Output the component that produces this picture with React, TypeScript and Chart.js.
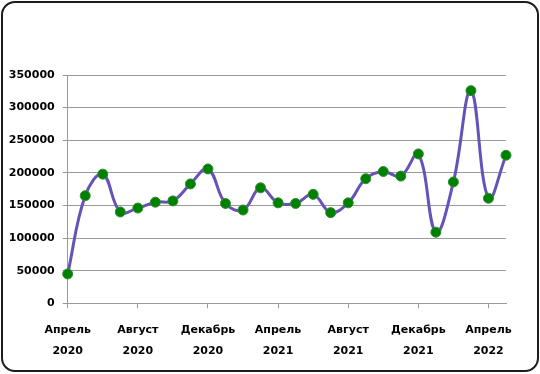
import { useEffect, useRef } from "react";
import { Chart, registerables } from "chart.js";

Chart.register(...registerables);

const categories: string[][] = [
  ["Апрель", "2020"], ["Май", "2020"], ["Июнь", "2020"], ["Июль", "2020"],
  ["Август", "2020"], ["Сентябрь", "2020"], ["Октябрь", "2020"], ["Ноябрь", "2020"],
  ["Декабрь", "2020"], ["Январь", "2021"], ["Февраль", "2021"], ["Март", "2021"],
  ["Апрель", "2021"], ["Май", "2021"], ["Июнь", "2021"], ["Июль", "2021"],
  ["Август", "2021"], ["Сентябрь", "2021"], ["Октябрь", "2021"], ["Ноябрь", "2021"],
  ["Декабрь", "2021"], ["Январь", "2022"], ["Февраль", "2022"], ["Март", "2022"],
  ["Апрель", "2022"], ["Май", "2022"],
];

const values: number[] = [
  45000, 165000, 198000, 140000, 146000, 155000, 157000, 183000, 206000,
  153000, 143000, 177000, 154000, 153000, 167000, 139000, 154000, 191000,
  202000, 195000, 229000, 109000, 186000, 326000, 161000, 227000,
];

const yTicks: number[] = [0, 50000, 100000, 150000, 200000, 250000, 300000, 350000];

export default function App() {
  const ref = useRef<HTMLCanvasElement | null>(null);

  useEffect(() => {
    if (!ref.current) return;
    const font = { family: "'DejaVu Sans', sans-serif", size: 11, weight: "bold" as const };
    const chart = new Chart(ref.current, {
      type: "line",
      data: {
        labels: categories,
        datasets: [
          {
            data: values,
            borderColor: "#6652b8",
            borderWidth: 3,
            tension: 0.4,
            pointRadius: 5,
            pointBackgroundColor: "#008000",
            pointBorderColor: "#2f8f2f",
            pointBorderWidth: 1,
            fill: false,
          },
        ],
      },
      options: {
        animation: false,
        responsive: false,
        maintainAspectRatio: false,
        layout: { padding: { left: 0, top: 75, right: 34, bottom: 0 } },
        plugins: { legend: { display: false }, tooltip: { enabled: false } },
        scales: {
          x: {
            type: "category",
            offset: false,
            grid: {
              drawOnChartArea: false,
              drawTicks: true,
              tickLength: 5,
              tickColor: (ctx: any) => (ctx.index % 4 === 0 ? "#9a9a9a" : "rgba(0,0,0,0)"),
            },
            border: { color: "#9a9a9a", width: 1 },
            ticks: {
              autoSkip: false,
              maxRotation: 0,
              minRotation: 0,
              padding: 11,
              color: "#000",
              font: { ...font, lineHeight: 1.9 },
              callback: (_v: any, i: number) => (i % 4 === 0 ? categories[i] : ""),
            },
            afterFit: (s: any) => {
              s.height = 70.7;
            },
          },
          y: {
            min: 0,
            max: 350000,
            afterBuildTicks: (s: any) => {
              s.ticks = yTicks.map((v) => ({ value: v }));
            },
            grid: { color: "#9a9a9a", lineWidth: 1, tickLength: 5 },
            border: { color: "#9a9a9a", width: 1 },
            ticks: {
              padding: 8,
              color: "#000",
              font,
              callback: (v: any) => String(v),
            },
            afterFit: (s: any) => {
              s.width = 67.7;
            },
          },
        },
      },
    });
    return () => chart.destroy();
  }, []);

  return (
    <div style={{ position: "fixed", left: 0, top: 0, width: 540, height: 374, background: "#fff" }}>
      <canvas ref={ref} width={540} height={374} style={{ position: "absolute", left: 0, top: 0, width: 540, height: 374 }} />
      <div
        style={{
          position: "absolute",
          left: 1,
          top: 1,
          width: 538,
          height: 371,
          boxSizing: "border-box",
          border: "2.5px solid #1c1c1c",
          borderRadius: 14,
          pointerEvents: "none",
        }}
      />
    </div>
  );
}
